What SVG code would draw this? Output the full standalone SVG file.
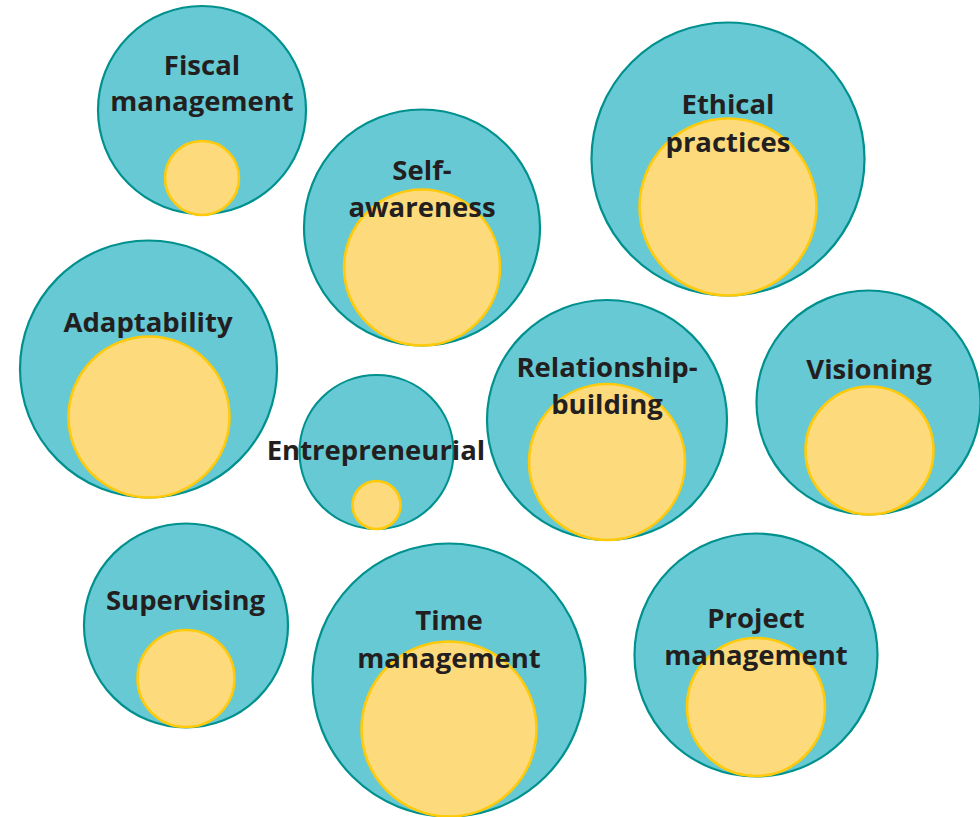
<svg xmlns="http://www.w3.org/2000/svg" width="980" height="817" viewBox="0 0 980 817">
<style>
.o{fill:#66C9D4;stroke:#00918E;stroke-width:2.2}
.i{fill:#FDDB7D;stroke:#FFCA0A;stroke-width:2.6}
.t{font-family:"Open Sans","Noto Sans","Liberation Sans",sans-serif;font-weight:bold;font-size:27.5px;fill:#231F20;text-anchor:middle}
</style>
<rect width="980" height="817" fill="#FFFFFF"/>
<g id="fiscal">
<circle class="o" cx="202" cy="110" r="104"/>
<circle class="i" cx="202" cy="178" r="37"/>
<text class="t" x="202" y="75">Fiscal</text>
<text class="t" x="202" y="111">management</text>
</g>
<g id="self-awareness">
<circle class="o" cx="422" cy="227.5" r="118"/>
<circle class="i" cx="422" cy="267.5" r="78"/>
<text class="t" x="422" y="180">Self-</text>
<text class="t" x="422" y="217">awareness</text>
</g>
<g id="ethical">
<circle class="o" cx="728" cy="159" r="136.5"/>
<circle class="i" cx="728" cy="207" r="88.5"/>
<text class="t" x="728" y="114">Ethical</text>
<text class="t" x="728" y="152">practices</text>
</g>
<g id="adaptability">
<circle class="o" cx="148.5" cy="369" r="128.5"/>
<circle class="i" cx="149" cy="417" r="80.5"/>
<text class="t" x="148" y="332">Adaptability</text>
</g>
<g id="entrepreneurial">
<circle class="o" cx="376.5" cy="452" r="77"/>
<circle class="i" cx="376.5" cy="505" r="24"/>
<text class="t" x="376" y="460">Entrepreneurial</text>
</g>
<g id="relationship">
<circle class="o" cx="607" cy="420" r="120"/>
<circle class="i" cx="607" cy="462" r="78"/>
<text class="t" x="607" y="377">Relationship-</text>
<text class="t" x="607" y="414">building</text>
</g>
<g id="visioning">
<circle class="o" cx="868.5" cy="402.5" r="112"/>
<circle class="i" cx="869.5" cy="450.5" r="64"/>
<text class="t" x="869" y="379">Visioning</text>
</g>
<g id="supervising">
<circle class="o" cx="186" cy="625.5" r="102"/>
<circle class="i" cx="186" cy="678.5" r="48.5"/>
<text class="t" x="185.5" y="610">Supervising</text>
</g>
<g id="time">
<circle class="o" cx="449" cy="680" r="136.5"/>
<circle class="i" cx="449" cy="729" r="87.5"/>
<text class="t" x="449" y="630">Time</text>
<text class="t" x="449" y="668">management</text>
</g>
<g id="project">
<circle class="o" cx="756" cy="655" r="121.5"/>
<circle class="i" cx="756" cy="707" r="69"/>
<text class="t" x="756" y="628">Project</text>
<text class="t" x="756" y="665">management</text>
</g>
</svg>
